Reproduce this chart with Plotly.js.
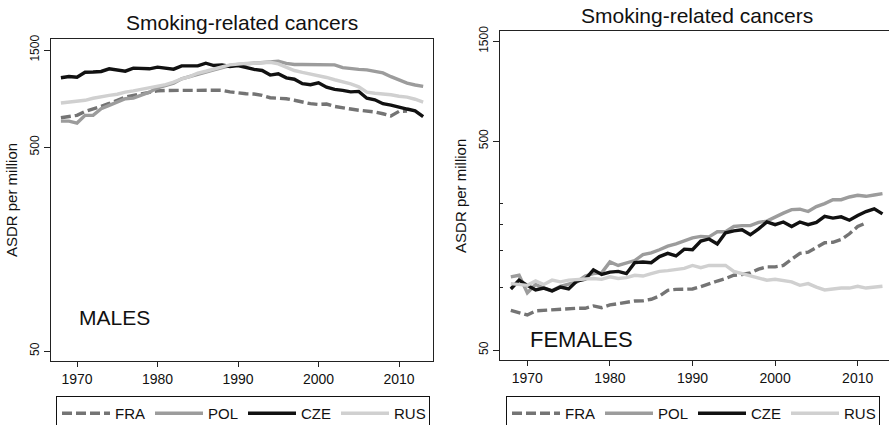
<!DOCTYPE html>
<html><head><meta charset="utf-8">
<script src="https://cdn.plot.ly/plotly-3.0.1.min.js"></script>
<style>html,body{margin:0;padding:0;background:#fff}#chart{width:889px;height:425px}</style>
</head><body><div id="chart"></div>
<script>
// ---- data (ASDR per million, smoking-related cancers) ----
const years = [1968,1969,1970,1971,1972,1973,1974,1975,1976,1977,1978,1979,1980,1981,1982,1983,1984,1985,1986,1987,1988,1989,1990,1991,1992,1993,1994,1995,1996,1997,1998,1999,2000,2001,2002,2003,2004,2005,2006,2007,2008,2009,2010,2011,2012,2013];
const yearsFRA = [1968,1969,1970,1971,1972,1973,1974,1975,1976,1977,1978,1979,1980,1981,1982,1983,1984,1985,1986,1987,1988,1989,1990,1991,1992,1993,1994,1995,1996,1997,1998,1999,2000,2001,2002,2003,2004,2005,2006,2007,2008,2009,2010,2011];
const countries = ['FRA','POL','CZE','RUS'];

// males
const FRA_M = [698,705,717,750,770,793,820,850,881,898,915,935,945,950,950,955,958,955,950,952,952,935,923,915,912,898,875,870,865,850,830,818,811,815,793,785,770,760,753,745,730,712,750,753];
const POL_M = [672,672,657,717,717,773,802,830,865,871,905,932,979,1005,1031,1084,1115,1146,1170,1199,1230,1259,1274,1283,1292,1300,1306,1322,1290,1274,1274,1274,1262,1265,1268,1230,1213,1206,1199,1180,1159,1110,1070,1031,1010,994];
const CZE_M = [1097,1112,1104,1167,1170,1177,1213,1200,1181,1222,1220,1213,1236,1225,1208,1254,1250,1254,1292,1259,1268,1245,1259,1231,1205,1190,1130,1146,1095,1078,1025,1013,1036,986,962,950,935,940,870,855,818,805,785,770,755,706];
const RUS_M = [824,830,839,850,870,888,898,910,932,945,960,979,997,1015,1043,1084,1110,1154,1180,1213,1240,1268,1283,1290,1292,1300,1306,1283,1230,1190,1165,1146,1125,1100,1072,1050,1024,990,932,920,915,905,890,881,860,833];

// females
const FRA_F = [77.5,75.6,73.6,77,77.5,78.4,78.5,79.2,79.2,79.2,81.3,79.8,82.2,83.4,84.5,85.9,86,87.5,90.7,96.6,97.6,97.5,98,100.5,104,107,110,114,115,117,122,125,125,127,136,145,147,154,163,164,169,180,195,203];
const POL_F = [112,114,94,103,99,96,101,103,106,113,116,117,132,127,131,134,143,146,151,157,161,167,172,175,174,184,184,195,197,197,204,207,217,226,235,236,230,243,251,262,262,270,275,272,276,280];
const CZE_F = [98,108,102,97,99,96,100,98,107,109,121,115,118,119,116,131,132,131,140,145,141,152,151,166,170,161,182,186,188,178,190,205,199,205,195,205,199,204,218,214,217,209,220,230,237,224];
const RUS_F = [104,103,102,107,103,108,106,108,109,109,110,109,112,110,111,114,113,116,119,120,122,123,127,124,127,127,127,119,116,114,111,108,109,107,106,102,104,100,97,98,99,99,101,99,100,101];

const yTickVals = [50, 500, 1500];
const yMinorVals = [100, 150, 200, 250];
const xTickVals = [1970, 1980, 1990, 2000, 2010];

// ---- styles ----
const W = 889, H = 425;
const FONT = 'Liberation Sans, Arial, Helvetica, sans-serif';
const styles = {
  FRA: {color: '#747474', width: 3.4, dash: '10px,4px'},
  POL: {color: '#9c9c9c', width: 3.4, dash: 'solid'},
  CZE: {color: '#111111', width: 3.4, dash: 'solid'},
  RUS: {color: '#d0d0d0', width: 3.4, dash: 'solid'}
};

const maleData = {FRA: FRA_M, POL: POL_M, CZE: CZE_M, RUS: RUS_M};
const femaleData = {FRA: FRA_F, POL: POL_F, CZE: CZE_F, RUS: RUS_F};

const traces = [];
countries.forEach(c => {
  traces.push({x: c === 'FRA' ? yearsFRA : years, y: maleData[c], name: c, type: 'scatter', mode: 'lines',
    line: styles[c], xaxis: 'x', yaxis: 'y', legend: 'legend'});
});
countries.forEach(c => {
  traces.push({x: c === 'FRA' ? yearsFRA : years, y: femaleData[c], name: c, type: 'scatter', mode: 'lines',
    line: styles[c], xaxis: 'x2', yaxis: 'y2', legend: 'legend2'});
});

const px = v => v / W, py = v => 1 - v / H;

const xBase = {
  tickvals: xTickVals, ticks: 'outside', ticklen: 5, tickwidth: 1, tickcolor: '#222',
  showline: true, linecolor: '#222', linewidth: 1, mirror: true,
  showgrid: false, zeroline: false, tickfont: {size: 14, color: '#111', family: FONT}, fixedrange: true
};
const yBase = {
  type: 'log', tickvals: yTickVals, ticktext: yTickVals.map(String), tickangle: -90,
  ticks: 'outside', ticklen: 6, tickwidth: 1, tickcolor: '#222',
  showline: true, linecolor: '#222', linewidth: 1, automargin: true,
  showgrid: false, zeroline: false, tickfont: {size: 12, color: '#111', family: FONT},
  title: {text: 'ASDR per million', standoff: 6, font: {size: 15, color: '#111', family: FONT}}, fixedrange: true
};

const legendBase = {
  orientation: 'h', xanchor: 'left', yanchor: 'top', bordercolor: '#111', borderwidth: 1,
  bgcolor: '#fff', font: {size: 15, color: '#111', family: FONT}, traceorder: 'normal',
  entrywidth: 30, entrywidthmode: 'pixels', itemwidth: 48
};

const layout = {
  width: W, height: H, paper_bgcolor: '#fff', plot_bgcolor: '#fff',
  margin: {l: 0, r: 0, t: 0, b: 0, autoexpand: false},
  font: {family: FONT, color: '#111'},
  showlegend: true,
  xaxis: Object.assign({}, xBase, {domain: [px(51), px(433.3)], range: [1966.77, 2014.26], anchor: 'y'}),
  yaxis: Object.assign({}, yBase, {domain: [py(360.7), py(39.3)], range: [1.6514, 3.2287], anchor: 'x', mirror: true}),
  xaxis2: Object.assign({}, xBase, {domain: [px(499.5), 1], range: [1966.63, 2013.79], anchor: 'y2'}),
  yaxis2: Object.assign({}, yBase, {domain: [py(360.3), py(31.3)], range: [1.650, 3.224], anchor: 'x2', mirror: false,
    minor: {tickvals: yMinorVals, ticks: 'inside', ticklen: 3, tickwidth: 1, tickcolor: '#222', showgrid: false}}),
  legend: Object.assign({}, legendBase, {x: px(56), y: py(396)}),
  legend2: Object.assign({}, legendBase, {x: px(506), y: py(396)}),
  annotations: [
    {text: 'Smoking-related cancers', xref: 'paper', yref: 'paper', x: px(242), y: py(23), xanchor: 'center', yanchor: 'middle', showarrow: false, font: {size: 21, color: '#111', family: FONT}},
    {text: 'Smoking-related cancers', xref: 'paper', yref: 'paper', x: px(697), y: py(16), xanchor: 'center', yanchor: 'middle', showarrow: false, font: {size: 21, color: '#111', family: FONT}},
    {text: 'MALES', xref: 'paper', yref: 'paper', x: px(77), y: py(317), xanchor: 'left', yanchor: 'middle', showarrow: false, font: {size: 21, color: '#111', family: FONT}},
    {text: 'FEMALES', xref: 'paper', yref: 'paper', x: px(528), y: py(339), xanchor: 'left', yanchor: 'middle', showarrow: false, font: {size: 22, color: '#111', family: FONT}}
  ]
};

Plotly.newPlot('chart', traces, layout, {staticPlot: true, displayModeBar: false});
</script></body></html>
